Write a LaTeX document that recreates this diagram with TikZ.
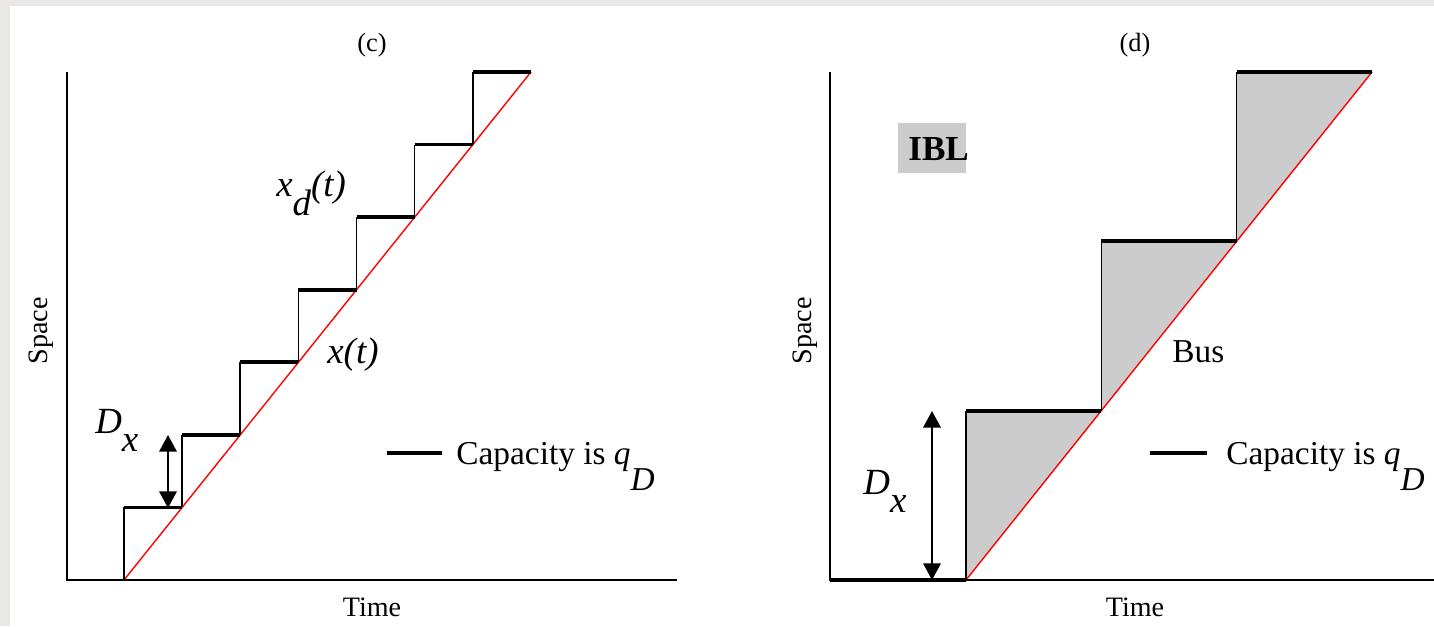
\documentclass[tikz,border=0pt]{standalone}
\usepackage{fontspec}
\setmainfont{Liberation Serif}
\usetikzlibrary{arrows.meta, positioning}
\definecolor{pagegray}{HTML}{E9E8E6}
\definecolor{gapgray}{HTML}{CCCCCC}
\newcommand{\lowered}[2]{\raisebox{-#1}{#2}}
\tikzset{
    % Lines
    axis/.style       = {line width=1.1pt},
    riser/.style      = {line width=0.9pt},
    tread/.style      = {line width=2.1pt},
    trajectory/.style = {red, line width=0.8pt},
    dimarrow/.style   = {line width=1pt, {Triangle[length=9.5pt,width=10pt]}-{Triangle[length=9.5pt,width=10pt]}},
    % Labels
    title/.style     = {font=\fontsize{15}{18}\selectfont, inner sep=0pt, anchor=base},
    axislabel/.style = {font=\fontsize{16}{19}\selectfont, inner sep=0pt, anchor=base},
    biglabel/.style  = {font=\fontsize{19}{23}\selectfont, inner sep=0pt, anchor=base west},
    mathlabel/.style = {biglabel, font=\fontsize{21}{25}\selectfont\itshape}
}

\begin{document}
\begin{tikzpicture}[x=0.02cm, y=0.02cm]
    \fill[pagegray] (0,0) rectangle (1434,626);
    \fill[white] (10,0) rectangle (1434,620);
    \useasboundingbox (0,0) rectangle (1434,626);

    % Panel (c)
    \node (titlec) [title] at (372,574) {(c)};
    \node (timec) [axislabel] at (372,10) {Time};
    \node (spacec) [axislabel, rotate=90] at (48,295) {Space};

    \draw[trajectory] (124,46) -- (531,554);
    \foreach \i in {0,...,6} {
        \draw[riser] ({124+\i*58.14},{46+\i*72.57}) -- ++(0,72.57);
        \draw[tread] ({124+\i*58.14},{46+(\i+1)*72.57}) -- ++(58.14,0);
    }
    \draw[axis] (67,554) -- (67,46) -- (677,46);

    \node (xd) [mathlabel] at (276,429) {x\lowered{0.5em}{d}(t)};
    \node (xt) [mathlabel] at (327,262) {x(t)};
    \node (dxc) [mathlabel] at (95,193) {D\lowered{0.5em}{x}};
    \coordinate (dxctop) at (168,191);
    \coordinate (dxcbot) at (168,118);
    \draw[dimarrow] (dxcbot) -- (dxctop);

    \coordinate (legc) at (387,173);
    \draw[tread] (legc) -- ++(55,0);
    \node (capc) [biglabel] at (456,161) {Capacity is \textit{q}\lowered{0.75em}{\textit{D}}};

    % Panel (d)
    \node (titled) [title] at (1135,574) {(d)};
    \node (timed) [axislabel] at (1135,10) {Time};
    \node (spaced) [axislabel, rotate=90] at (811,295) {Space};

    \foreach \i in {0,1,2} {
        \fill[gapgray] ({966+\i*135.33},{46+\i*169.33}) -- ++(0,169.33) -- ++(135.33,0) -- cycle;
    }
    \draw[trajectory] (966,46) -- (1372,554);
    \foreach \i in {0,1,2} {
        \draw[riser] ({966+\i*135.33},{46+\i*169.33}) -- ++(0,169.33);
        \draw[tread] ({966+\i*135.33},{46+(\i+1)*169.33}) -- ++(135.33,0);
    }
    \draw[axis] (830,554) -- (830,46) -- (1434,46);
    \draw[tread] (830,46) -- (966,46);

    \fill[gapgray] (898,453) rectangle (966,503);
    \node (ibl) [biglabel, font=\fontsize{20}{24}\selectfont\bfseries] at (908,465) {IBL};
    \node (bus) [biglabel] at (1172,263) {Bus};
    \node (dxd) [mathlabel] at (863,132) {D\lowered{0.5em}{x}};
    \coordinate (dxdtop) at (932,215);
    \coordinate (dxdbot) at (932,46);
    \draw[dimarrow] (dxdbot) -- (dxdtop);

    \coordinate (legd) at (1150,173);
    \draw[tread] (legd) -- ++(57,0);
    \node (capd) [biglabel] at (1226,161) {Capacity is \textit{q}\lowered{0.75em}{\textit{D}}};
\end{tikzpicture}
\end{document}
